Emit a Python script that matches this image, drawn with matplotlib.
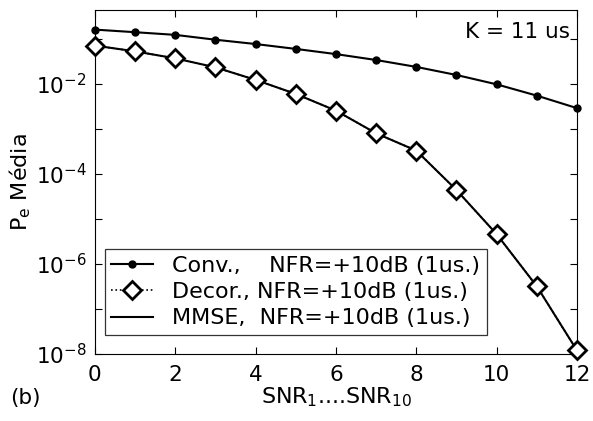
import matplotlib
matplotlib.use("Agg")
import matplotlib.pyplot as plt
import numpy as np

plt.rcParams['font.family'] = ['DejaVu Sans']
plt.rcParams['mathtext.fontset'] = 'dejavusans'

snr = [0, 1, 2, 3, 4, 5, 6, 7, 8, 9, 10, 11, 12]
conv = [0.161, 0.141, 0.123, 0.096, 0.077, 0.060, 0.046, 0.034, 0.0239,
        0.0158, 0.0098, 0.0055, 0.0029]
decor = [0.071, 0.053, 0.037, 0.0234, 0.0123, 0.0060, 0.00255, 8.0e-4,
         3.3e-4, 4.4e-5, 4.6e-6, 3.2e-7, 1.2e-8]
mmse = [0.071, 0.053, 0.037, 0.0234, 0.0123, 0.0060, 0.00255, 8.0e-4,
        3.3e-4, 4.4e-5, 4.6e-6, 3.2e-7, 1.2e-8]
labels = ['Conv.,    NFR=+10dB (1us.)',
          'Decor., NFR=+10dB (1us.)',
          'MMSE,  NFR=+10dB (1us.)']
xticks = [0, 2, 4, 6, 8, 10, 12]
yticks = [1e-8, 1e-6, 1e-4, 1e-2]
ytick_labels = [r'$10^{-8}$', r'$10^{-6}$', r'$10^{-4}$', r'$10^{-2}$']

FS = 15.5
LFS = 16

fig = plt.figure(figsize=(5.93, 4.21), dpi=100)
ax = fig.add_axes([0.160, 0.159, 0.813, 0.817])

ax.plot(snr, conv, '-', color='black', lw=1.5, marker='o', ms=5,
        label=labels[0], clip_on=False, zorder=4)
ax.plot(snr, decor, ':', color='black', lw=1.2, marker='D', ms=9,
        mfc='white', mec='black', mew=2.0, label=labels[1], zorder=3,
        clip_on=False)
ax.plot(snr, mmse, '-', color='black', lw=1.5, label=labels[2], zorder=2)

ax.set_yscale('log')
ax.set_xlim(0, 12)
ax.set_ylim(1e-8, 10**-0.36)
ax.set_xticks(xticks)
ax.set_xticklabels([str(v) for v in xticks])
ax.set_yticks(yticks)
ax.set_yticklabels(ytick_labels)
ax.set_yticks([10.0**k for k in range(-8, 0)], minor=True)
ax.yaxis.set_minor_formatter(matplotlib.ticker.NullFormatter())
ax.tick_params(axis='both', which='both', direction='in', top=True, right=True,
               labelsize=FS, length=5, width=0.8)
ax.tick_params(axis='y', which='minor', length=5)
ax.tick_params(axis='x', pad=8)
ax.tick_params(axis='y', pad=6)

ax.set_xlabel(r'SNR$_1$....SNR$_{10}$', fontsize=LFS, labelpad=0)
ax.set_ylabel(r'P$_{\mathregular{e}}$ Média', fontsize=LFS, labelpad=2)

ax.text(0.985, 0.965, 'K = 11 us', transform=ax.transAxes, ha='right', va='top',
        fontsize=FS)
fig.text(0.017, 0.03, '(b)', fontsize=FS, ha='left', va='bottom')

leg = ax.legend(loc='lower left', bbox_to_anchor=(0.02, 0.055), fontsize=LFS,
                frameon=True, fancybox=False, edgecolor='black',
                borderpad=0.3, labelspacing=0.28, handlelength=1.9,
                handletextpad=0.85, borderaxespad=0)
leg.get_frame().set_linewidth(0.9)

fig.savefig('out.png', dpi=100)
